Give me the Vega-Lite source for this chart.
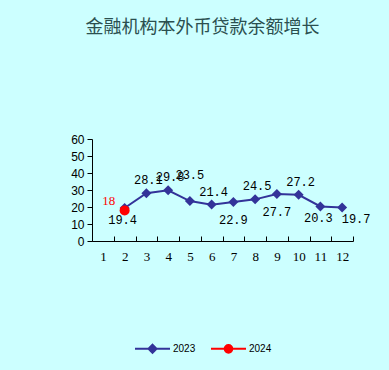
{
  "$schema": "https://vega.github.io/schema/vega-lite/v6.json",
  "width": 261,
  "height": 102,
  "autosize": {"type": "none"},
  "padding": {"left": 92, "top": 139, "right": 36, "bottom": 129},
  "background": "#ccffff",
  "title": {
    "text": "金融机构本外币贷款余额增长",
    "font": "Noto Sans CJK SC",
    "fontSize": 18,
    "fontWeight": "normal",
    "color": "#2b4f4f",
    "anchor": "middle",
    "frame": "group",
    "offset": 96,
    "dx": -20
  },
  "config": {
    "view": {"stroke": null},
    "axis": {"domainColor": "black", "tickColor": "black", "labelColor": "black", "domainWidth": 1, "tickWidth": 1}
  },
  "data": {
    "values": [
      {"month": 2, "series": "2023", "value": 19.4},
      {"month": 3, "series": "2023", "value": 28.1},
      {"month": 4, "series": "2023", "value": 29.8},
      {"month": 5, "series": "2023", "value": 23.5},
      {"month": 6, "series": "2023", "value": 21.4},
      {"month": 7, "series": "2023", "value": 22.9},
      {"month": 8, "series": "2023", "value": 24.5},
      {"month": 9, "series": "2023", "value": 27.7},
      {"month": 10, "series": "2023", "value": 27.2},
      {"month": 11, "series": "2023", "value": 20.3},
      {"month": 12, "series": "2023", "value": 19.7},
      {"month": 2, "series": "2024", "value": 18}
    ]
  },
  "encoding": {
    "x": {
      "field": "month",
      "type": "ordinal",
      "scale": {"type": "band", "domain": [1, 2, 3, 4, 5, 6, 7, 8, 9, 10, 11, 12], "paddingInner": 0, "paddingOuter": 0},
      "axis": {"title": null, "labelAngle": 0, "tickBand": "extent", "tickSize": -5, "labelPadding": 14, "labelFont": "Liberation Serif", "labelFontSize": 13}
    },
    "y": {
      "field": "value",
      "type": "quantitative",
      "scale": {"domain": [0, 60], "nice": false},
      "axis": {"title": null, "values": [0, 10, 20, 30, 40, 50, 60], "grid": false, "tickSize": 5, "labelPadding": 3, "labelFont": "Liberation Sans", "labelFontSize": 12}
    }
  },
  "layer": [
    {
      "mark": {"type": "line", "strokeWidth": 2},
      "encoding": {
        "color": {
          "field": "series",
          "type": "nominal",
          "scale": {"domain": ["2023", "2024"], "range": ["#333399", "#ff0000"]},
          "legend": {
            "title": null,
            "orient": "none",
            "direction": "horizontal",
            "legendX": 42,
            "legendY": 191,
            "padding": 0,
            "symbolSize": 1225,
            "symbolStrokeWidth": 2,
            "labelOffset": 2,
            "columnPadding": 11,
            "labelFont": "Liberation Sans",
            "labelFontSize": 10,
            "labelColor": "black",
            "encode": {
              "symbols": {
                "update": {
                  "shape": {"signal": "datum.value === '2023' ? 'M-1,0L1,0M0,-0.23L0.23,0L0,0.23L-0.23,0Z' : 'M-1,0L1,0M-0.22,0A0.22,0.22 0 1,0 0.22,0A0.22,0.22 0 1,0 -0.22,0Z'"},
                  "stroke": {"signal": "datum.value === '2023' ? '#333399' : '#ff0000'"},
                  "fill": {"signal": "datum.value === '2023' ? '#333399' : '#ff0000'"},
                  "strokeWidth": {"value": 2},
                  "opacity": {"value": 1}
                }
              }
            }
          }
        }
      }
    },
    {
      "transform": [{"filter": {"field": "series", "equal": "2023"}}],
      "mark": {"type": "point", "filled": true, "size": 100, "opacity": 1, "shape": "diamond", "color": "#333399"}
    },
    {
      "transform": [{"filter": {"field": "series", "equal": "2024"}}],
      "mark": {"type": "point", "filled": true, "size": 100, "opacity": 1, "shape": "circle", "color": "#ff0000"}
    },
    {
      "transform": [{"filter": {"field": "series", "equal": "2023"}}, {"filter": {"field": "month", "oneOf": [3, 4, 6, 8, 10]}}],
      "mark": {"type": "text", "font": "Liberation Mono", "fontSize": 12, "color": "black", "dx": 2, "dy": -13, "baseline": "middle"},
      "encoding": {"text": {"field": "value", "type": "quantitative", "format": ".1f"}}
    },
    {
      "transform": [{"filter": {"field": "series", "equal": "2023"}}, {"filter": {"field": "month", "oneOf": [5]}}],
      "mark": {"type": "text", "font": "Liberation Mono", "fontSize": 12, "color": "black", "dx": 0, "dy": -26, "baseline": "middle"},
      "encoding": {"text": {"field": "value", "type": "quantitative", "format": ".1f"}}
    },
    {
      "transform": [{"filter": {"field": "series", "equal": "2023"}}, {"filter": {"field": "month", "oneOf": [2, 11]}}],
      "mark": {"type": "text", "font": "Liberation Mono", "fontSize": 12, "color": "black", "dx": -2, "dy": 12, "baseline": "middle"},
      "encoding": {"text": {"field": "value", "type": "quantitative", "format": ".1f"}}
    },
    {
      "transform": [{"filter": {"field": "series", "equal": "2023"}}, {"filter": {"field": "month", "oneOf": [7, 9]}}],
      "mark": {"type": "text", "font": "Liberation Mono", "fontSize": 12, "color": "black", "dx": 0, "dy": 18, "baseline": "middle"},
      "encoding": {"text": {"field": "value", "type": "quantitative", "format": ".1f"}}
    },
    {
      "transform": [{"filter": {"field": "series", "equal": "2023"}}, {"filter": {"field": "month", "oneOf": [12]}}],
      "mark": {"type": "text", "font": "Liberation Mono", "fontSize": 12, "color": "black", "dx": 14, "dy": 11, "baseline": "middle"},
      "encoding": {"text": {"field": "value", "type": "quantitative", "format": ".1f"}}
    },
    {
      "transform": [{"filter": {"field": "series", "equal": "2024"}}],
      "mark": {"type": "text", "font": "Liberation Serif", "fontSize": 13, "color": "#ff0000", "dx": -16, "dy": -9, "baseline": "middle"},
      "encoding": {"text": {"field": "value", "type": "quantitative", "format": "d"}}
    }
  ]
}
